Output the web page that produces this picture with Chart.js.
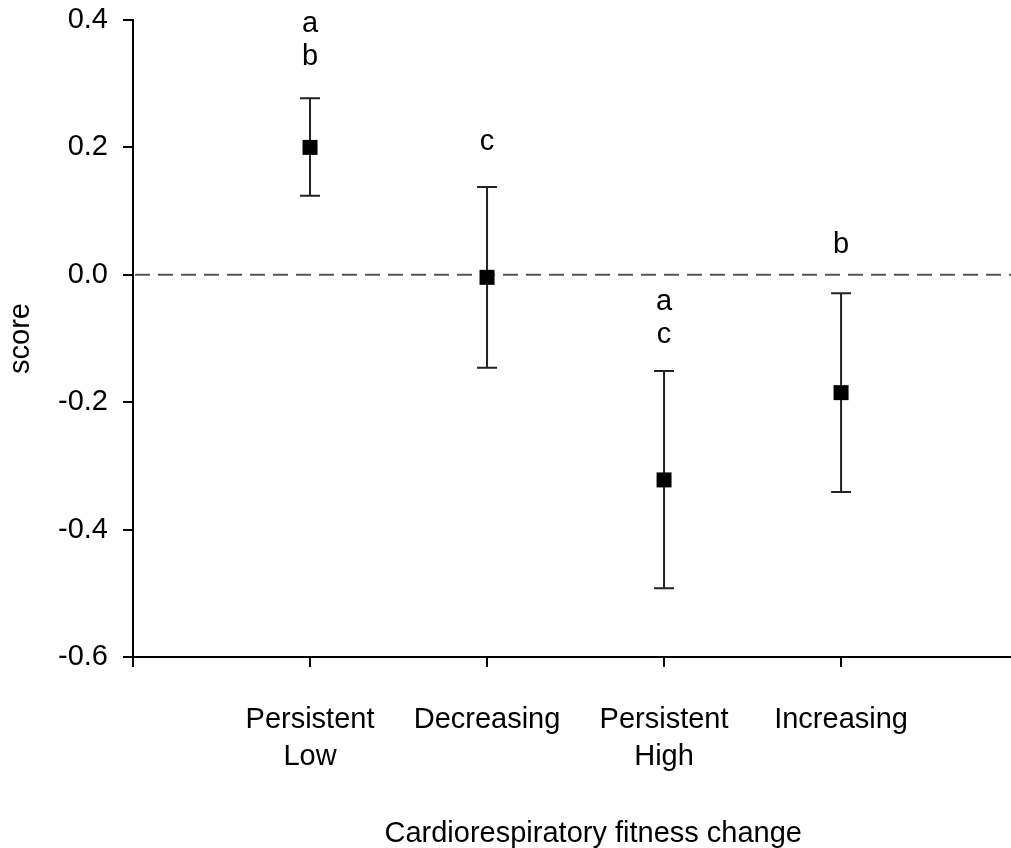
<!DOCTYPE html>
<html>
<head>
<meta charset="utf-8">
<script src="https://cdn.jsdelivr.net/npm/chart.js@4/dist/chart.umd.min.js"></script>
<style>
    html, body { margin: 0; background: #fff; overflow: hidden; }
    #wrap { width: 1011px; height: 848px; position: relative; }
    #chart { display: block; }
</style>
</head>
<body>
<div id="wrap"><canvas id="chart"></canvas></div>
<script>
// Data
const categories = [['Persistent', 'Low'], ['Decreasing'], ['Persistent', 'High'], ['Increasing']];
const means = [0.200, -0.004, -0.322, -0.185];
const upper = [0.277, 0.138, -0.151, -0.029];
const lower = [0.124, -0.146, -0.492, -0.341];
const letters = [['a', 'b'], ['c'], ['a', 'c'], ['b']];
const letterY = [[0.381, 0.329], [0.196], [-0.055, -0.107], [0.034]];
const yTicks = [-0.6, -0.4, -0.2, 0.0, 0.2, 0.4];

const FONT = '"Liberation Sans", Arial, sans-serif';
Chart.defaults.font.family = FONT;
Chart.defaults.color = '#000';

// Let the x axis run to the right edge of the canvas
const fullWidth = {
    id: 'fullWidth',
    afterLayout(chart) {
        const x = chart.scales.x;
        chart.chartArea.right = chart.width;
        chart.chartArea.width = chart.chartArea.right - chart.chartArea.left;
        x.right = chart.width;
        x.width = x.right - x.left;
        x.configure();
    }
};

// Dashed zero line + error bars, drawn under the markers
const errorBars = {
    id: 'errorBars',
    beforeDatasetsDraw(chart) {
        const { ctx, chartArea, scales: { x, y } } = chart;
        ctx.save();
        // zero reference line
        ctx.strokeStyle = '#555';
        ctx.lineWidth = 2;
        ctx.setLineDash([15, 8]);
        const y0 = y.getPixelForValue(0);
        ctx.beginPath();
        ctx.moveTo(chartArea.left + 2, y0);
        ctx.lineTo(chartArea.right, y0);
        ctx.stroke();
        ctx.setLineDash([]);

        ctx.strokeStyle = '#222';
        ctx.lineWidth = 2;
        means.forEach((m, i) => {
            const px = x.getPixelForValue(i + 1);
            const top = y.getPixelForValue(upper[i]);
            const bot = y.getPixelForValue(lower[i]);
            ctx.beginPath();
            ctx.moveTo(px, top);
            ctx.lineTo(px, bot);
            ctx.moveTo(px - 10, top);
            ctx.lineTo(px + 10, top);
            ctx.moveTo(px - 10, bot);
            ctx.lineTo(px + 10, bot);
            ctx.stroke();
        });
        ctx.restore();
    },
    afterDraw(chart) {
        const { ctx, scales: { x, y } } = chart;
        ctx.save();
        ctx.fillStyle = '#000';
        ctx.font = '29px ' + FONT;
        ctx.textAlign = 'center';
        ctx.textBaseline = 'alphabetic';
        letters.forEach((group, i) => {
            const px = x.getPixelForValue(i + 1);
            group.forEach((t, j) => {
                ctx.fillText(t, px, y.getPixelForValue(letterY[i][j]));
            });
        });
        // x axis title
        ctx.fillText('Cardiorespiratory fitness change', x.getPixelForValue(2.6), 842);
        ctx.restore();
    }
};

const ctx = document.getElementById('chart').getContext('2d');
new Chart(ctx, {
    type: 'scatter',
    data: {
        datasets: [{
            data: means.map((m, i) => ({ x: i + 1, y: m })),
            pointStyle: 'rect',
            pointRadius: 10.6,
            pointHoverRadius: 10.6,
            backgroundColor: '#000',
            borderColor: '#000',
            borderWidth: 0
        }]
    },
    options: {
        responsive: true,
        maintainAspectRatio: false,
        animation: false,
        events: [],
        layout: { padding: { top: 20, right: 0, left: 0, bottom: 0 } },
        plugins: {
            legend: { display: false },
            tooltip: { enabled: false }
        },
        scales: {
            x: {
                type: 'linear',
                min: 0,
                max: 4.96,
                afterBuildTicks: (scale) => {
                    scale.ticks = [0, 1, 2, 3, 4].map(v => ({ value: v }));
                },
                afterFit: (scale) => {
                    scale.height = 191;
                    scale.paddingLeft = 0;
                    scale.paddingRight = 0;
                },
                ticks: {
                    autoSkip: false,
                    maxRotation: 0,
                    padding: 34,
                    font: { size: 29, lineHeight: 1.28 },
                    callback: (v) => categories[v - 1] || ''
                },
                grid: {
                    drawOnChartArea: false,
                    drawTicks: true,
                    tickLength: 10,
                    color: '#000',
                    lineWidth: 2
                },
                border: { display: true, color: '#000', width: 2 }
            },
            y: {
                min: -0.6,
                max: 0.4,
                afterBuildTicks: (scale) => {
                    scale.ticks = yTicks.map(v => ({ value: v }));
                },
                afterFit: (scale) => {
                    scale.width = 133;
                    scale.paddingTop = 0;
                    scale.paddingBottom = 0;
                },
                ticks: {
                    padding: 15,
                    font: { size: 29 },
                    callback: (v) => (Math.abs(v) < 1e-9 ? 0 : v).toFixed(1)
                },
                grid: {
                    drawOnChartArea: false,
                    drawTicks: true,
                    tickLength: 10,
                    color: '#000',
                    lineWidth: 2
                },
                border: { display: true, color: '#000', width: 2 },
                title: {
                    display: true,
                    text: 'score',
                    font: { size: 29 },
                    padding: { top: 4, bottom: 0 }
                }
            }
        }
    },
    plugins: [fullWidth, errorBars]
});
</script>
</body>
</html>
